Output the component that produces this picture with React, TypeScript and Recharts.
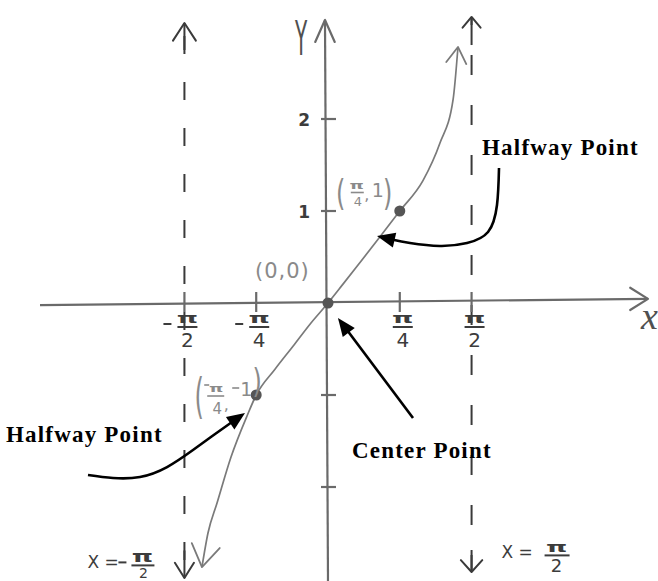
import React from 'react';
import { ComposedChart, Line, Scatter, XAxis, YAxis, ReferenceLine, ReferenceDot } from 'recharts';

const PI = Math.PI;

// hand-sketched curve y = tan(x)
const curveX = [-1.379, -1.313, -1.214, -1.061, -0.886, -PI / 4, -0.58, -0.383, -0.197, 0, 0.164, 0.35, 0.569, PI / 4, 1.039, 1.225, 1.368, 1.422];
const curveY = [-2.87, -2.5, -2.174, -1.674, -1.228, -1, -0.72, -0.47, -0.23, 0, 0.205, 0.44, 0.72, 1, 1.33, 1.739, 2.207, 2.783];

// marked points
const keyX = [-PI / 4, 0, PI / 4];
const keyY = [-1, 0, 1];

// ticks
const xTickValues = [-PI / 2, -PI / 4, PI / 4, PI / 2];
const xTickSigns = [true, true, false, false];
const xTickDenoms = ['2', '4', '4', '2'];
const yTickValues = [-2, -1, 1, 2];
const yTickLabels = ['', '', '1', '2'];

// asymptotes x = ±π/2
const asymptoteX = [-PI / 2, PI / 2];

// annotation arrow shafts (data coordinates)
const rightArrowX = [1.871, 1.849, 1.751, 1.521, 1.225, 0.897, 0.7];
const rightArrowY = [1.467, 1.065, 0.772, 0.652, 0.62, 0.652, 0.69];
const centerArrowX = [0.93, 0.214];
const centerArrowY = [-1.25, -0.302];
const leftArrowX = [-2.626, -2.352, -2.057, -1.761, -1.477, -1.258, -1.05];
const leftArrowY = [-1.87, -1.902, -1.891, -1.783, -1.598, -1.44, -1.293];

const X_MIN = -3.5886, X_MAX = 3.6105, Y_MIN = -3.0217, Y_MAX = 3.2935;

const axisColor = '#6a6a6a';
const curveColor = '#7a7a7a';
const dotColor = '#555';
const asymColor = '#3a3a3a';
const tickColor = '#3c3c3c';
const ptColor = '#8a8a8a';
const hand = "'DejaVu Sans', sans-serif";
const serif = "'Liberation Serif', 'Times New Roman', serif";

const vHead = (cx: number, cy: number, angleDeg: number, len: number, spread: number, color: string, w: number) => {
  const a = (angleDeg * PI) / 180;
  const s = (spread * PI) / 180;
  const b1 = a + PI - s, b2 = a + PI + s;
  return (
    <path
      d={`M${cx + len * Math.cos(b1)},${cy + len * Math.sin(b1)} L${cx},${cy} L${cx + len * Math.cos(b2)},${cy + len * Math.sin(b2)}`}
      fill="none" stroke={color} strokeWidth={w} strokeLinecap="round" strokeLinejoin="round"
    />
  );
};

const fHead = (cx: number, cy: number, angleDeg: number, len: number, half: number) => {
  const a = (angleDeg * PI) / 180;
  const bx = cx - len * Math.cos(a), by = cy - len * Math.sin(a);
  const nx = -Math.sin(a), ny = Math.cos(a);
  return <path d={`M${cx},${cy} L${bx + half * nx},${by + half * ny} L${bx - half * nx},${by - half * ny} Z`} fill="#000" />;
};

const sText = (x: number, y: number, s: string, size: number, sx: number, sy: number, fill: string, weight: any = 'normal') => (
  <text transform={`translate(${x},${y}) scale(${sx},${sy})`} x={0} y={0} fontSize={size} textAnchor="middle" fill={fill} fontFamily={hand} fontWeight={weight}>{s}</text>
);

const at = (key: string, x: number, y: number, draw: (cx: number, cy: number) => React.ReactNode) => (
  <ReferenceDot key={key} x={x} y={y} r={0} ifOverflow="visible" isFront shape={(p: any) => <g>{draw(p.cx, p.cy)}</g>} />
);

const annot = { fontFamily: serif, fontWeight: 700 as any, fontSize: 23, letterSpacing: 1.2, fill: '#000' };

export default function App() {
  const curve = curveX.map((x, i) => ({ x, y: curveY[i] }));
  const keyPts = keyX.map((x, i) => ({ x, y: keyY[i] }));
  const rightArrow = rightArrowX.map((x, i) => ({ x, y: rightArrowY[i] }));
  const centerArrow = centerArrowX.map((x, i) => ({ x, y: centerArrowY[i] }));
  const leftArrow = leftArrowX.map((x, i) => ({ x, y: leftArrowY[i] }));

  return (
    <div style={{ position: 'absolute', left: 0, top: 0, width: 658, height: 581, background: '#fff' }}>
      <ComposedChart width={658} height={581} data={curve} margin={{ top: 0, right: 0, bottom: 0, left: 0 }}>
        <XAxis type="number" dataKey="x" domain={[X_MIN, X_MAX]} allowDataOverflow hide />
        <YAxis type="number" dataKey="y" domain={[Y_MIN, Y_MAX]} allowDataOverflow hide />

        {/* axes */}
        <ReferenceLine segment={[{ x: -3.151, y: -0.022 }, { x: 3.501, y: 0.045 }]} stroke={axisColor} strokeWidth={2.2} ifOverflow="visible" />
        <ReferenceLine segment={[{ x: -0.033, y: 3.076 }, { x: 0, y: Y_MIN }]} stroke={axisColor} strokeWidth={2.2} ifOverflow="visible" />

        {/* asymptotes */}
        <ReferenceLine segment={[{ x: asymptoteX[0], y: 3.043 }, { x: asymptoteX[0], y: -2.989 }]} stroke={asymColor} strokeWidth={2} strokeDasharray="18 28" strokeDashoffset={33} ifOverflow="visible" />
        <ReferenceLine segment={[{ x: asymptoteX[0], y: 3.043 }, { x: asymptoteX[0], y: 2.75 }]} stroke={asymColor} strokeWidth={2} ifOverflow="visible" />
        <ReferenceLine segment={[{ x: asymptoteX[0], y: -2.989 }, { x: asymptoteX[0], y: -2.69 }]} stroke={asymColor} strokeWidth={2} ifOverflow="visible" />
        <ReferenceLine segment={[{ x: asymptoteX[1], y: 3.109 }, { x: asymptoteX[1], y: -2.924 }]} stroke={asymColor} strokeWidth={2} strokeDasharray="20 30" strokeDashoffset={12} ifOverflow="visible" />
        <ReferenceLine segment={[{ x: asymptoteX[1], y: 3.109 }, { x: asymptoteX[1], y: 2.804 }]} stroke={asymColor} strokeWidth={2} ifOverflow="visible" />
        <ReferenceLine segment={[{ x: asymptoteX[1], y: -2.924 }, { x: asymptoteX[1], y: -2.685 }]} stroke={asymColor} strokeWidth={2} ifOverflow="visible" />

        {/* arrow heads of axes and asymptotes */}
        {at('yh', -0.033, 3.076, (cx, cy) => vHead(cx, cy, -90, 24, 24, axisColor, 2.2))}
        {at('xh', 3.501, 0.045, (cx, cy) => vHead(cx, cy, 0, 21, 32, axisColor, 2.2))}
        {at('a0t', asymptoteX[0], 3.043, (cx, cy) => vHead(cx, cy, -90, 21, 33, asymColor, 2))}
        {at('a0b', asymptoteX[0], -2.989, (cx, cy) => vHead(cx, cy, 90, 18, 32, asymColor, 2))}
        {at('a1t', asymptoteX[1], 3.109, (cx, cy) => vHead(cx, cy, -90, 14, 40, asymColor, 2))}
        {at('a1b', asymptoteX[1], -2.924, (cx, cy) => vHead(cx, cy, 90, 16, 42, asymColor, 2))}

        {/* x ticks */}
        {xTickValues.map((v, i) =>
          at('xt' + i, v, 0, (cx, cy) => (
            <g>
              <line x1={cx} y1={cy - 11} x2={cx} y2={cy + 9} stroke={axisColor} strokeWidth={2.2} />
              {xTickSigns[i] && <line x1={cx - 21} y1={cy + 21} x2={cx - 13} y2={cy + 21} stroke={tickColor} strokeWidth={2} />}
              {sText(cx + 3, cy + 20, 'π', 18, 1.5, 0.8, tickColor, 'bold')}
              <line x1={cx - 7} y1={cy + 24} x2={cx + 13} y2={cy + 24} stroke={tickColor} strokeWidth={2} />
              <text x={cx + 3} y={cy + 44} fontSize={20} textAnchor="middle" fill={tickColor} fontFamily={hand}>{xTickDenoms[i]}</text>
            </g>
          ))
        )}

        {/* y ticks */}
        {yTickValues.map((v, i) =>
          at('yt' + i, 0, v, (cx, cy) => (
            <g>
              <line x1={cx - 7} y1={cy} x2={cx + 8} y2={cy} stroke={axisColor} strokeWidth={2.2} />
              {yTickLabels[i] && (
                <text x={cx - 18} y={cy + 7} fontSize={17} textAnchor="end" fill={tickColor} fontFamily={hand} fontWeight="bold">{yTickLabels[i]}</text>
              )}
            </g>
          ))
        )}

        {/* axis names */}
        {at('yl', -0.033, 3.076, (cx, cy) => sText(cx - 24, cy + 35, 'Y', 40, 0.5, 1.2, '#505050'))}
        {at('xl', 3.501, 0.045, (cx, cy) => (
          <text x={cx - 7} y={cy + 30} fontSize={38} fontStyle="italic" fill="#505050" fontFamily={serif}>x</text>
        ))}

        {/* asymptote labels */}
        {asymptoteX.map((v, i) =>
          at('al' + i, v, -2.95, (cx, cy) =>
            i === 0 ? (
              <g>
                <text x={cx - 97} y={cy - 6} fontSize={17} fill={tickColor} fontFamily={hand}>X =</text>
                <line x1={cx - 66} y1={cy - 12} x2={cx - 58} y2={cy - 12} stroke={tickColor} strokeWidth={2} />
                {sText(cx - 42, cy - 12, 'π', 18, 1.5, 0.85, tickColor, 'bold')}
                <line x1={cx - 53} y1={cy - 9} x2={cx - 30} y2={cy - 9} stroke={tickColor} strokeWidth={2} />
                <text x={cx - 41} y={cy + 4} fontSize={14} textAnchor="middle" fill={tickColor} fontFamily={hand}>2</text>
              </g>
            ) : (
              <g>
                <text x={cx + 30} y={cy - 16} fontSize={17} fill={tickColor} fontFamily={hand}>X =</text>
                {sText(cx + 85, cy - 22, 'π', 18, 1.5, 0.8, tickColor, 'bold')}
                <line x1={cx + 73} y1={cy - 19} x2={cx + 98} y2={cy - 19} stroke={tickColor} strokeWidth={2} />
                <text x={cx + 85} y={cy - 2} fontSize={18} textAnchor="middle" fill={tickColor} fontFamily={hand}>2</text>
              </g>
            )
          )
        )}

        {/* curve */}
        <Line data={curve} dataKey="y" type="monotone" stroke={curveColor} strokeWidth={1.7} dot={false} activeDot={false} isAnimationActive={false} legendType="none" />
        {at('ct', curveX[curveX.length - 1], curveY[curveY.length - 1], (cx, cy) => vHead(cx, cy, -84, 19, 32, curveColor, 1.8))}
        {at('cb', curveX[0], curveY[0], (cx, cy) => vHead(cx, cy, 100, 26, 33, curveColor, 1.8))}

        <Scatter data={keyPts} dataKey="y" isAnimationActive={false} legendType="none"
          shape={(p: any) => <circle cx={p.cx} cy={p.cy} r={5.5} fill={dotColor} />} />

        {/* point labels */}
        {at('p0', 0, 0, (cx, cy) => (
          <text x={cx - 73} y={cy - 25} fontSize={21} letterSpacing={1} fill={ptColor} fontFamily={hand}>(0,0)</text>
        ))}
        {at('p1', keyX[2], keyY[2], (cx, cy) => (
          <g>
            {sText(cx - 59, cy - 5.7, '(', 24, 1, 1.5, ptColor)}
            {sText(cx - 43, cy - 22, 'π', 14, 1.3, 0.8, ptColor, 'bold')}
            <line x1={cx - 49} y1={cy - 18.5} x2={cx - 36} y2={cy - 18.5} stroke={ptColor} strokeWidth={1.6} />
            <text x={cx - 42} y={cy - 5} fontSize={13} textAnchor="middle" fill={ptColor} fontFamily={hand}>4</text>
            <text x={cx - 33} y={cy - 11} fontSize={16} textAnchor="middle" fill={ptColor} fontFamily={hand}>,</text>
            <text x={cx - 22} y={cy - 14} fontSize={19} textAnchor="middle" fill={ptColor} fontFamily={hand}>1</text>
            {sText(cx - 12, cy - 5.7, ')', 24, 1, 1.5, ptColor)}
          </g>
        ))}
        {at('pm1', keyX[0], keyY[0], (cx, cy) => (
          <g>
            {sText(cx - 57, cy + 18, '(', 24, 1, 2.0, ptColor)}
            <line x1={cx - 52} y1={cy - 10} x2={cx - 47} y2={cy - 10} stroke={ptColor} strokeWidth={1.6} />
            {sText(cx - 40, cy - 3, 'π', 14, 1.3, 0.8, ptColor, 'bold')}
            <line x1={cx - 49} y1={cy + 1} x2={cx - 32} y2={cy + 1} stroke={ptColor} strokeWidth={1.6} />
            <text x={cx - 39} y={cy + 19} fontSize={15} textAnchor="middle" fill={ptColor} fontFamily={hand}>4</text>
            <text x={cx - 30} y={cy + 15} fontSize={16} textAnchor="middle" fill={ptColor} fontFamily={hand}>,</text>
            <line x1={cx - 24} y1={cy - 7} x2={cx - 17} y2={cy - 7} stroke={ptColor} strokeWidth={1.6} />
            <text x={cx - 10} y={cy + 1} fontSize={19} textAnchor="middle" fill={ptColor} fontFamily={hand}>1</text>
            {sText(cx + 1, cy - 2.4, ')', 24, 1, 1.4, ptColor)}
          </g>
        ))}

        {/* annotation arrows */}
        <Line data={rightArrow} dataKey="y" type="natural" stroke="#000" strokeWidth={2.6} dot={false} activeDot={false} isAnimationActive={false} legendType="none" />
        <Line data={centerArrow} dataKey="y" type="linear" stroke="#000" strokeWidth={2.6} dot={false} activeDot={false} isAnimationActive={false} legendType="none" />
        <Line data={leftArrow} dataKey="y" type="natural" stroke="#000" strokeWidth={2.6} dot={false} activeDot={false} isAnimationActive={false} legendType="none" />
        {at('rh', 0.536, 0.728, (cx, cy) => fHead(cx, cy, 193, 18, 7.5))}
        {at('chd', 0.109, -0.163, (cx, cy) => fHead(cx, cy, -126.9, 18, 7.5))}
        {at('lh', -0.908, -1.196, (cx, cy) => fHead(cx, cy, -34.5, 18, 7.5))}

        {/* annotation texts */}
        {at('t1', rightArrowX[0], rightArrowY[0], (cx, cy) => <text x={cx - 17} y={cy - 13} {...annot}>Halfway Point</text>)}
        {at('t2', leftArrowX[0], leftArrowY[0], (cx, cy) => <text x={cx - 82} y={cy - 33} {...annot}>Halfway Point</text>)}
        {at('t3', centerArrowX[0], centerArrowY[0], (cx, cy) => <text x={cx - 61} y={cy + 40} {...annot}>Center Point</text>)}
      </ComposedChart>
    </div>
  );
}
